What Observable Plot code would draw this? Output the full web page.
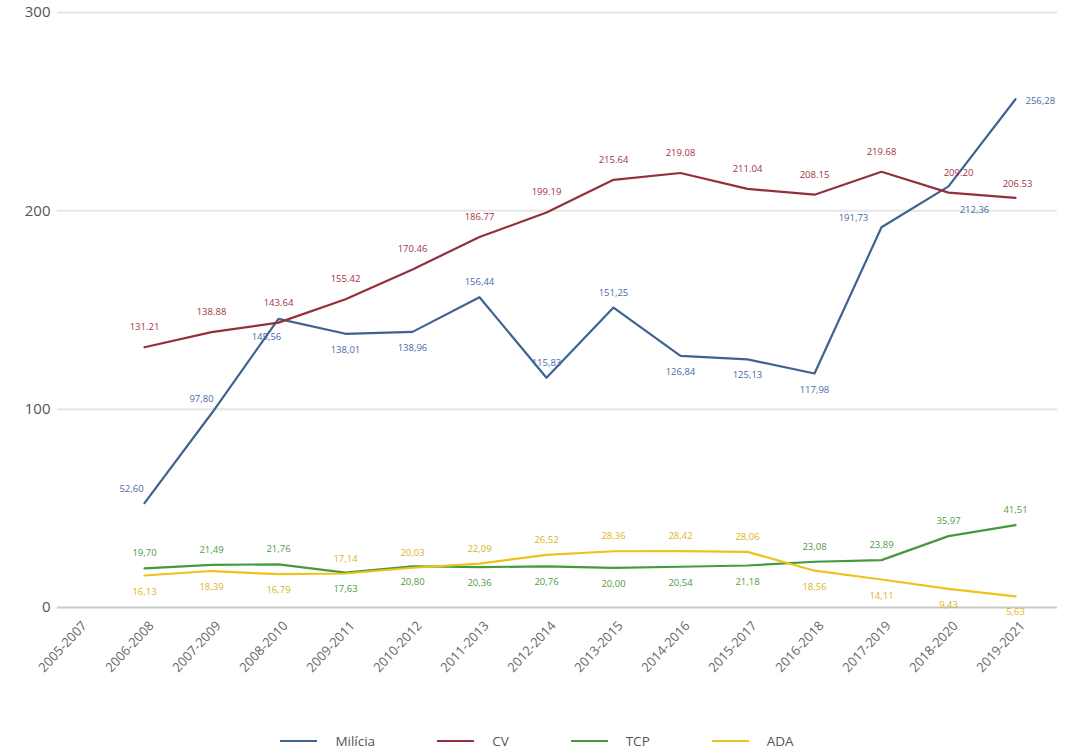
<!DOCTYPE html>
<html>
<head>
<meta charset="utf-8">
<script src="https://cdn.jsdelivr.net/npm/d3@7"></script>
<script src="https://cdn.jsdelivr.net/npm/@observablehq/plot@0.6"></script>
<style>
  body { margin: 0; background: #fff; font-family: "Open Sans", "Noto Sans", sans-serif; }
  #chart svg { display: block; }
  #legend { display: flex; justify-content: center; align-items: center; height: 24px; margin-top: 29px; font-size: 13.5px; color: #555; padding-left: 2px; }
  .item { display: flex; align-items: center; margin: 0 31px; }
  .swatch { width: 37px; height: 2px; margin-right: 18px; }
</style>
</head>
<body>
<div id="chart"></div>
<div id="legend"></div>
<script>
const periods = ["2005-2007","2006-2008","2007-2009","2008-2010","2009-2011","2010-2012","2011-2013","2012-2014","2013-2015","2014-2016","2015-2017","2016-2018","2017-2019","2018-2020","2019-2021"];
const seriesNames = ["Milícia","CV","TCP","ADA"];
const milicia = [null, 52.60, 97.80, 145.56, 138.01, 138.96, 156.44, 115.83, 151.25, 126.84, 125.13, 117.98, 191.73, 212.36, 256.28];
const cv      = [null, 131.21, 138.88, 143.64, 155.42, 170.46, 186.77, 199.19, 215.64, 219.08, 211.04, 208.15, 219.68, 209.20, 206.53];
const tcp     = [null, 19.70, 21.49, 21.76, 17.63, 20.80, 20.36, 20.76, 20.00, 20.54, 21.18, 23.08, 23.89, 35.97, 41.51];
const ada     = [null, 16.13, 18.39, 16.79, 17.14, 20.03, 22.09, 26.52, 28.36, 28.42, 28.06, 18.56, 14.11, 9.43, 5.63];
const yTicks = [0, 100, 200, 300];

const colors = {"Milícia": "#3f6391", "CV": "#93303c", "TCP": "#45993f", "ADA": "#eec21c"};
const labelColors = {"Milícia": "#4a6aa8", "CV": "#a3333f", "TCP": "#4f9a45", "ADA": "#e0b320"};
// label placement per point (a = above, b = below, others special)
const placement = {
  "Milícia": [null,"l","l2","bl","b","b","a","a","a","b","b","b","lw","br","r"],
  "CV":      [null,"ca","ca","ca","ca","ca","ca","ca","ca","ca","ca","ca","ca","car","ca2"],
  "TCP":     [null,"a","a","a","b","b","b","b","b","b","b","a","a","a","a"],
  "ADA":     [null,"b","b","b","a","a","a","a","a","a","a","b","b","b","b"]
};
const offsets = {
  a:   {dx: 0, dy: -15, anchor: "middle"},
  b:   {dx: 0, dy: 16, anchor: "middle"},
  ca:  {dx: 0, dy: -20, anchor: "middle"},
  ca2: {dx: 2, dy: -14, anchor: "middle"},
  car: {dx: 10, dy: -20, anchor: "middle"},
  l:   {dx: -13, dy: -14, anchor: "middle"},
  l2:  {dx: -10, dy: -15, anchor: "middle"},
  bl:  {dx: -12, dy: 18, anchor: "middle"},
  lw:  {dx: -28, dy: -9, anchor: "middle"},
  br:  {dx: 26, dy: 24, anchor: "middle"},
  r:   {dx: 10, dy: 2, anchor: "start"}
};

const seriesValues = {"Milícia": milicia, "CV": cv, "TCP": tcp, "ADA": ada};
const rows = [];
for (const s of seriesNames) {
  seriesValues[s].forEach((v, i) => {
    if (v == null) return;
    const txt = s === "CV" ? v.toFixed(2) : v.toFixed(2).replace(".", ",");
    rows.push({series: s, period: periods[i], value: v, label: txt, pos: placement[s][i]});
  });
}

const labelMarks = [];
for (const s of seriesNames) {
  for (const key of Object.keys(offsets)) {
    const sub = rows.filter(d => d.series === s && d.pos === key);
    if (!sub.length) continue;
    const o = offsets[key];
    labelMarks.push(Plot.text(sub, {
      x: "period", y: "value", text: "label",
      dx: o.dx, dy: o.dy, textAnchor: o.anchor,
      fill: labelColors[s], fontSize: 9.5
    }));
  }
}

const chart = Plot.plot({
  width: 1072,
  height: 700,
  marginTop: 12,
  marginBottom: 93,
  marginLeft: 57,
  marginRight: 15,
  style: {fontFamily: "'Open Sans', 'Noto Sans', sans-serif", background: "#fff"},
  x: {type: "point", domain: periods, padding: 0, insetLeft: 15, insetRight: 37, label: null},
  y: {domain: [0, 300], label: null},
  marks: [
    Plot.ruleY(yTicks.filter(t => t > 0), {stroke: "#e6e6e6", strokeWidth: 2}),
    Plot.ruleY([0], {stroke: "#c8c8c8", strokeWidth: 2}),
    Plot.axisY({ticks: yTicks, tickSize: 0, tickPadding: 7, fontSize: 15, color: "#555", label: null}),
    Plot.axisX({tickSize: 0, tickRotate: -47, tickPadding: 12, fontSize: 13, color: "#666", label: null, dx: 7, dy: 4}),
    Plot.line(rows, {x: "period", y: "value", z: "series", stroke: d => colors[d.series], strokeWidth: 2.2}),
    ...labelMarks
  ]
});
document.getElementById("chart").appendChild(chart);

const legend = document.getElementById("legend");
for (const s of seriesNames) {
  const it = document.createElement("div");
  it.className = "item";
  const sw = document.createElement("span");
  sw.className = "swatch";
  sw.style.background = colors[s];
  const t = document.createElement("span");
  t.textContent = s;
  it.appendChild(sw);
  it.appendChild(t);
  legend.appendChild(it);
}
</script>
</body>
</html>
